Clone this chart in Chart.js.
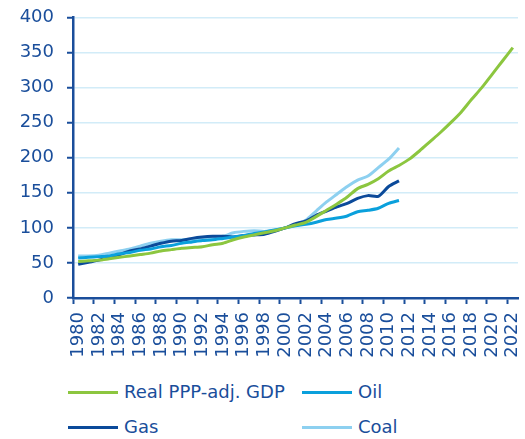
<!DOCTYPE html>
<html>
<head>
<meta charset="utf-8">
<script src="https://cdn.jsdelivr.net/npm/chart.js@4"></script>
<style>
  html, body { margin: 0; padding: 0; background: #fff; }
  #wrap { position: relative; width: 525px; height: 439px; }
  #chart { position: absolute; left: 0; top: 0; }
  .leg { position: absolute; font: 18px "DejaVu Sans", sans-serif; color: #1a4e9b; white-space: nowrap; line-height: 22px; }
  .leg i { display: inline-block; width: 50px; height: 3px; vertical-align: middle; margin-right: 6px; position: relative; top: -1px; }
</style>
</head>
<body>
<div id="wrap">
  <canvas id="chart" width="525" height="370"></canvas>
  <div class="leg" style="left:68px;top:381px"><i style="background:#8cc63f"></i>Real PPP-adj. GDP</div>
  <div class="leg" style="left:302px;top:381px"><i style="background:#0aa0dc"></i>Oil</div>
  <div class="leg" style="left:68px;top:416px"><i style="background:#0b4a9a"></i>Gas</div>
  <div class="leg" style="left:302px;top:416px"><i style="background:#8dd0f0"></i>Coal</div>
</div>
<script>
// years on the category axis
const years = [];
for (let y = 1980; y <= 2022; y++) years.push(String(y));

const yTicks = [0, 50, 100, 150, 200, 250, 300, 350, 400];

// index values (2000 = 100)
const gdp = [52, 53, 54, 56, 58, 60, 62, 64, 67, 69,
             71, 72, 73, 76, 78, 83, 87, 90, 93, 96,
             100, 104, 108, 116, 125, 134, 144, 156, 162, 170,
             181, 189, 198, 210, 223, 236, 250, 265, 283, 300,
             319, 338, 357];
const oil = [57, 58, 59, 60, 63, 65, 68, 70, 73, 75,
             78, 80, 82, 83, 85, 87, 89, 92, 94, 97,
             100, 103, 105, 108, 112, 114, 117, 123, 125, 128,
             135, 139];
const gas = [48, 51, 54, 58, 62, 67, 70, 74, 78, 81,
             82, 85, 87, 88, 88, 87, 89, 90, 91, 95,
             100, 106, 110, 118, 124, 130, 135, 142, 146, 145,
             159, 167];
const coal = [60, 60, 61, 64, 67, 70, 74, 78, 81, 83,
              83, 83, 85, 86, 88, 93, 95, 96, 95, 97,
              100, 105, 111, 124, 137, 148, 159, 168, 174, 186,
              198, 214];

const dark = '#1a4e9b';
const font = { family: '"DejaVu Sans", sans-serif', size: 18 };

function line(label, data, color) {
  return { label, data, borderColor: color, backgroundColor: color, borderWidth: 3,
           pointRadius: 0, tension: 0.25, fill: false };
}

new Chart(document.getElementById('chart'), {
  type: 'line',
  data: {
    labels: years,
    datasets: [
      line('Real PPP-adj. GDP', gdp, '#8cc63f'),
      line('Oil', oil, '#0aa0dc'),
      line('Gas', gas, '#0b4a9a'),
      line('Coal', coal, '#8dd0f0')
    ]
  },
  options: {
    responsive: false,
    animation: false,
    devicePixelRatio: 1,
    layout: { padding: { top: 17.5, right: 7, left: 0, bottom: 0 } },
    plugins: { legend: { display: false }, tooltip: { enabled: false } },
    scales: {
      x: {
        offset: true,
        grid: {
          offset: true,
          drawOnChartArea: false,
          tickLength: 6,
          tickWidth: 2,
          tickColor: (c) => (c.index % 2 === 0 ? dark : 'rgba(0,0,0,0)')
        },
        border: { color: dark, width: 2.5 },
        ticks: {
          autoSkip: false,
          minRotation: 90,
          maxRotation: 90,
          padding: 8,
          color: dark,
          font,
          callback: function (v, i) { return i % 2 === 0 ? years[i] : ''; }
        },
        afterFit: (s) => { s.height = 72; s.paddingLeft = 0; s.paddingRight = 0; }
      },
      y: {
        min: 0,
        max: 400,
        afterBuildTicks: (s) => { s.ticks = yTicks.map(v => ({ value: v })); },
        grid: { color: '#d2ecf8', lineWidth: 1.5, tickLength: 6, tickWidth: 2, tickColor: dark },
        border: { color: dark, width: 2.5 },
        ticks: { padding: 13, color: dark, font },
        afterFit: (s) => { s.width = 73; s.paddingTop = 0; s.paddingBottom = 0; }
      }
    }
  }
});
</script>
</body>
</html>
